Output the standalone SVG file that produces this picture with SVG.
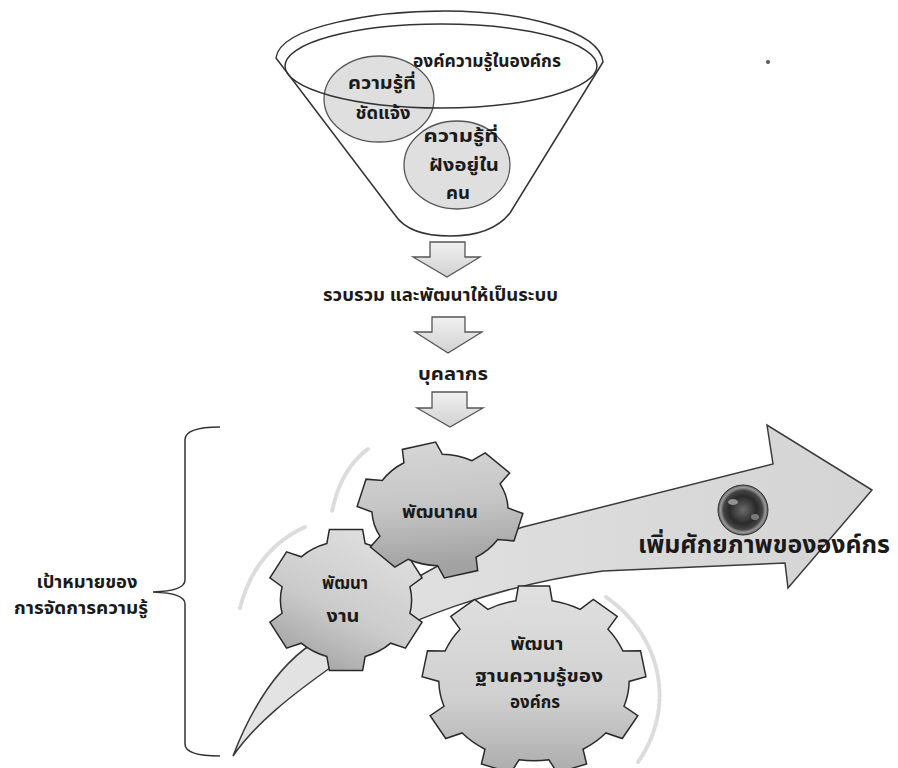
<svg xmlns="http://www.w3.org/2000/svg" width="898" height="768" viewBox="0 0 898 768">
<style>
text{font-family:"Noto Sans Thai","Noto Sans","Liberation Sans",sans-serif;font-weight:bold;fill:#1a1a1a}
.ln{fill:none;stroke:#333;stroke-width:1.5}
.darr{fill:url(#gArr);stroke:#555;stroke-width:1.3}
.gear{stroke:#2a2a2a;stroke-width:1.5;vector-effect:non-scaling-stroke}
.fade{fill:none;stroke:#dcdcdc;stroke-width:4;stroke-dasharray:3 2;stroke-linecap:round}
.circ{fill:#d4d4d4;fill-opacity:0.75;stroke:#555;stroke-width:1.3}
</style>
<defs>
<linearGradient id="gArr" x1="0" y1="0" x2="0" y2="1"><stop offset="0" stop-color="#f0f0f0"/><stop offset="1" stop-color="#d2d2d2"/></linearGradient>
<linearGradient id="gSw" x1="0" y1="0" x2="1" y2="0"><stop offset="0" stop-color="#e4e4e4"/><stop offset="1" stop-color="#d4d4d4"/></linearGradient>
<linearGradient id="gG1" x1="0" y1="0" x2="0.4" y2="1"><stop offset="0" stop-color="#dadada"/><stop offset="0.55" stop-color="#c6c6c6"/><stop offset="1" stop-color="#a2a2a2"/></linearGradient>
<linearGradient id="gG2" x1="0" y1="0" x2="0" y2="1"><stop offset="0" stop-color="#dedede"/><stop offset="0.6" stop-color="#cbcbcb"/><stop offset="1" stop-color="#a8a8a8"/></linearGradient>
<linearGradient id="gG3" x1="0" y1="0" x2="0" y2="1"><stop offset="0" stop-color="#e0e0e0"/><stop offset="0.6" stop-color="#d0d0d0"/><stop offset="1" stop-color="#acacac"/></linearGradient>
<radialGradient id="gSph" cx="0.5" cy="0.5" r="0.5"><stop offset="0" stop-color="#6a6a6a"/><stop offset="0.55" stop-color="#2a2a2a"/><stop offset="0.78" stop-color="#444"/><stop offset="0.9" stop-color="#9a9a9a"/><stop offset="1" stop-color="#555"/></radialGradient>
<path id="g6" class="gear" d="M78.42,-23.97 L97.81,-20.79 L97.81,20.79 L78.42,23.97 A82,82 0 0 1 59.97,55.92 L66.91,74.31 L30.90,95.11 L18.45,79.90 A82,82 0 0 1 -18.45,79.90 L-30.90,95.11 L-66.91,74.31 L-59.97,55.92 A82,82 0 0 1 -78.42,23.97 L-97.81,20.79 L-97.81,-20.79 L-78.42,-23.97 A82,82 0 0 1 -59.97,-55.92 L-66.91,-74.31 L-30.90,-95.11 L-18.45,-79.90 A82,82 0 0 1 18.45,-79.90 L30.90,-95.11 L66.91,-74.31 L59.97,-55.92 A82,82 0 0 1 78.42,-23.97 Z"/>
<path id="g9" class="gear" d="M-16.22,-83.44 L-13.92,-99.03 L13.92,-99.03 L16.22,-83.44 A85,85 0 0 1 41.21,-74.34 L52.99,-84.80 L74.31,-66.91 L66.05,-53.49 A85,85 0 0 1 79.36,-30.46 L95.11,-30.90 L99.94,-3.49 L84.98,1.49 A85,85 0 0 1 80.37,27.68 L92.72,37.46 L78.80,61.57 L64.15,55.77 A85,85 0 0 1 43.78,72.86 L46.95,88.29 L20.79,97.81 L13.29,83.95 A85,85 0 0 1 -13.29,83.95 L-20.79,97.81 L-46.95,88.29 L-43.78,72.86 A85,85 0 0 1 -64.15,55.77 L-78.80,61.57 L-92.72,37.46 L-80.37,27.68 A85,85 0 0 1 -84.98,1.49 L-99.94,-3.49 L-95.11,-30.90 L-79.36,-30.46 A85,85 0 0 1 -66.05,-53.49 L-74.31,-66.91 L-52.99,-84.80 L-41.21,-74.34 A85,85 0 0 1 -16.22,-83.44 Z"/>
</defs>
<rect width="898" height="768" fill="#fff"/>

<g id="funnel">
<path class="ln" fill="#fff" d="M276,58 C280,25 380,11 445,11 C520,11 600,30 603,62 L510,213 C495,232 470,236 450,236 C425,236 405,230 395,215 Z"/>
<ellipse class="circ" cx="379" cy="99" rx="55" ry="43"/>
<ellipse class="circ" cx="457" cy="165" rx="53" ry="44"/>
<ellipse class="ln" cx="441" cy="66" rx="156" ry="42"/>
<text x="413" y="67" font-size="18" textLength="148" lengthAdjust="spacingAndGlyphs">องค์ความรู้ในองค์กร</text>
<text x="382" y="89" font-size="17" text-anchor="middle" textLength="68" lengthAdjust="spacingAndGlyphs">ความรู้ที่</text>
<text x="383" y="119" font-size="17" text-anchor="middle" textLength="55" lengthAdjust="spacingAndGlyphs">ชัดแจ้ง</text>
<text x="461" y="142" font-size="17" text-anchor="middle" textLength="75" lengthAdjust="spacingAndGlyphs">ความรู้ที่</text>
<text x="464" y="171" font-size="17" text-anchor="middle" textLength="70" lengthAdjust="spacingAndGlyphs">ฝังอยู่ใน</text>
<text x="458" y="199" font-size="17" text-anchor="middle" textLength="24" lengthAdjust="spacingAndGlyphs">คน</text>
</g>

<circle cx="768" cy="62" r="2" fill="#555"/>

<g id="connectors">
<path class="darr" d="M430,242 L465,242 L465,257 L480,257 L447,277 L413,257 L430,257 Z"/>
<path class="darr" d="M432,317 L465,317 L465,332 L482,332 L448,353 L415,332 L432,332 Z"/>
<path class="darr" d="M432,392 L467,392 L467,408 L483,408 L450,427 L417,408 L432,408 Z"/>
</g>

<g id="step1"><text x="323" y="301" font-size="18" textLength="235" lengthAdjust="spacingAndGlyphs">รวบรวม และพัฒนาให้เป็นระบบ</text></g>
<g id="step2"><text x="453" y="380" font-size="18" text-anchor="middle" textLength="70" lengthAdjust="spacingAndGlyphs">บุคลากร</text></g>

<g id="goal">
<path class="ln" d="M220,427 Q185,427 185,440 L185,580 Q185,591 153,592 Q185,593 185,604 L185,744 Q185,756 220,756"/>
<text x="87" y="588" font-size="18" text-anchor="middle" textLength="101" lengthAdjust="spacingAndGlyphs">เป้าหมายของ</text>
<text x="81" y="614" font-size="18" text-anchor="middle" textLength="134" lengthAdjust="spacingAndGlyphs">การจัดการความรู้</text>
</g>

<g id="fades">
<path class="fade" d="M368,449 Q340,470 332,512"/>
<path class="fade" d="M305,527 Q255,550 240,608"/>
<path class="fade" d="M606,597 A140 125 0 0 1 638,762"/>
</g>

<g id="swoosh">
<path fill="url(#gSw)" stroke="#3a3a3a" stroke-width="1.5" d="M233,756 C250,712 275,668 313,643 C380,598 460,548 523,527 L773,464 L767,425 L872,490 L788,588 L785,563 L603,571 C500,585 400,620 337,663 C290,696 255,724 233,756 Z"/>
<circle cx="743" cy="510" r="25" fill="url(#gSph)" stroke="#333" stroke-width="1"/>
<ellipse cx="733" cy="502" rx="5" ry="3" fill="#bbb" opacity="0.7"/>
<ellipse cx="755" cy="517" rx="4" ry="3" fill="#aaa" opacity="0.6"/>
<text x="638" y="553" font-size="24" textLength="252" lengthAdjust="spacingAndGlyphs">เพิ่มศักยภาพขององค์กร</text>
</g>

<g id="gear3">
<use href="#g9" fill="url(#gG3)" transform="translate(534,680) scale(1.12,0.95)"/>
<text x="537" y="650" font-size="18" text-anchor="middle" textLength="53" lengthAdjust="spacingAndGlyphs">พัฒนา</text>
<text x="539" y="682" font-size="18" text-anchor="middle" textLength="128" lengthAdjust="spacingAndGlyphs">ฐานความรู้ของ</text>
<text x="535" y="708" font-size="18" text-anchor="middle" textLength="50" lengthAdjust="spacingAndGlyphs">องค์กร</text>
</g>

<g id="gear2">
<use href="#g6" fill="url(#gG2)" transform="translate(346,600) scale(0.8,0.72) rotate(30)"/>
<text x="345" y="589" font-size="18" text-anchor="middle" textLength="46" lengthAdjust="spacingAndGlyphs">พัฒนา</text>
<text x="343" y="622" font-size="18" text-anchor="middle" textLength="33" lengthAdjust="spacingAndGlyphs">งาน</text>
</g>

<g id="gear1">
<use href="#g6" fill="url(#gG1)" transform="translate(440,510) scale(0.83,0.68) rotate(15)"/>
<text x="440" y="518" font-size="18" text-anchor="middle" textLength="76" lengthAdjust="spacingAndGlyphs">พัฒนาคน</text>
</g>
</svg>
